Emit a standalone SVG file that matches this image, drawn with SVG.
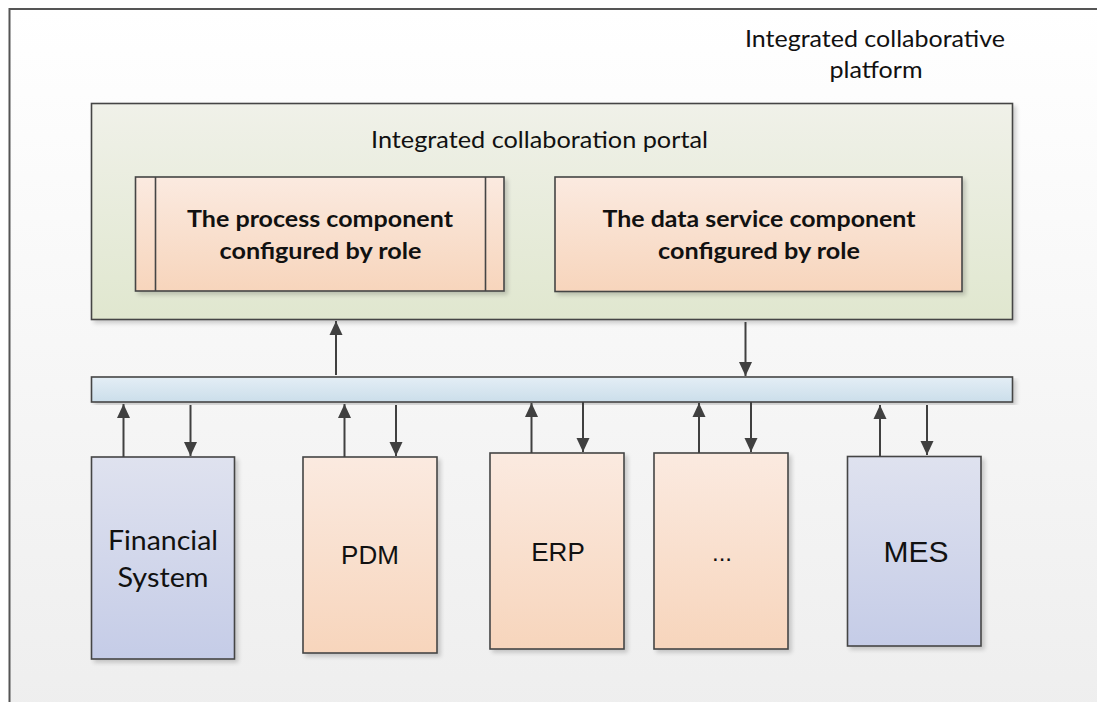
<svg xmlns="http://www.w3.org/2000/svg" width="1097" height="702" viewBox="0 0 1097 702">
  <defs>
    <linearGradient id="bg" x1="0" y1="0" x2="0" y2="1">
      <stop offset="0" stop-color="#ffffff"/>
      <stop offset="1" stop-color="#eeeeee"/>
    </linearGradient>
    <linearGradient id="green" x1="0" y1="0" x2="0" y2="1">
      <stop offset="0" stop-color="#f0f1e9"/>
      <stop offset="1" stop-color="#e0e7cf"/>
    </linearGradient>
    <linearGradient id="peach" x1="0" y1="0" x2="0" y2="1">
      <stop offset="0" stop-color="#fbeae0"/>
      <stop offset="1" stop-color="#f7d5bc"/>
    </linearGradient>
    <linearGradient id="blue" x1="0" y1="0" x2="0" y2="1">
      <stop offset="0" stop-color="#dfe2ef"/>
      <stop offset="1" stop-color="#c5cce7"/>
    </linearGradient>
    <linearGradient id="bus" x1="0" y1="0" x2="0" y2="1">
      <stop offset="0" stop-color="#e4eef6"/>
      <stop offset="1" stop-color="#cbdeea"/>
    </linearGradient>
    <filter id="sh" x="-5%" y="-5%" width="115%" height="115%">
      <feGaussianBlur in="SourceAlpha" stdDeviation="2"/>
      <feOffset dx="3" dy="3"/>
      <feComponentTransfer><feFuncA type="linear" slope="0.18"/></feComponentTransfer>
      <feMerge><feMergeNode/><feMergeNode in="SourceGraphic"/></feMerge>
    </filter>
    <marker id="ah" viewBox="0 0 14 14" refX="14" refY="7" markerWidth="14" markerHeight="14" markerUnits="userSpaceOnUse" orient="auto">
      <path d="M0,0.5 L14,7 L0,13.5 Z" fill="#404040"/>
    </marker>
  </defs>
  <style>
    .box { stroke: #454545; stroke-width: 1.6; }
    .conn { stroke: #404040; stroke-width: 2; fill: none; marker-end: url(#ah); }
    .cal { font-family: Lato, "Open Sans", sans-serif; fill: #111; }
    .bold { font-family: Lato, "Open Sans", sans-serif; font-weight: bold; fill: #111; }
    .ar { font-family: "Liberation Sans", Arial, sans-serif; fill: #111; }
  </style>

  <rect x="0" y="0" width="1097" height="702" fill="#ffffff"/>
  <g id="platform">
    <rect x="9.5" y="9" width="1100" height="710" fill="url(#bg)" stroke="#555555" stroke-width="2"/>
    <text class="cal" font-size="24" text-anchor="middle" x="875" y="47" textLength="260" lengthAdjust="spacingAndGlyphs">Integrated collaborative</text>
    <text class="cal" font-size="24" text-anchor="middle" x="876" y="78" textLength="93" lengthAdjust="spacingAndGlyphs">platform</text>
  </g>

  <g id="portal">
    <rect class="box" x="91.5" y="103.5" width="921" height="216" fill="url(#green)" filter="url(#sh)"/>
    <text class="cal" font-size="23" text-anchor="middle" x="539.5" y="148" textLength="337" lengthAdjust="spacingAndGlyphs">Integrated collaboration portal</text>
  </g>

  <g id="process">
    <rect class="box" x="135.5" y="177" width="368.5" height="114" fill="url(#peach)" filter="url(#sh)"/>
    <line class="box" x1="155.5" y1="177" x2="155.5" y2="291"/>
    <line class="box" x1="485.5" y1="177" x2="485.5" y2="291"/>
    <text class="bold" font-size="23" text-anchor="middle" x="320" y="227" textLength="266" lengthAdjust="spacingAndGlyphs">The process component</text>
    <text class="bold" font-size="23" text-anchor="middle" x="320.5" y="259" textLength="202" lengthAdjust="spacingAndGlyphs">configured by role</text>
  </g>

  <g id="dataservice">
    <rect class="box" x="555" y="177" width="407" height="114.5" fill="url(#peach)" filter="url(#sh)"/>
    <text class="bold" font-size="23" text-anchor="middle" x="759" y="227" textLength="313" lengthAdjust="spacingAndGlyphs">The data service component</text>
    <text class="bold" font-size="23" text-anchor="middle" x="759" y="259" textLength="202" lengthAdjust="spacingAndGlyphs">configured by role</text>
  </g>

  <g id="bus-node">
    <rect class="box" x="91.5" y="377" width="921" height="25" fill="url(#bus)" filter="url(#sh)"/>
  </g>

  <g id="financial">
    <rect class="box" x="91.5" y="457" width="143" height="202" fill="url(#blue)" filter="url(#sh)"/>
    <text class="cal" font-size="27" text-anchor="middle" x="163" y="550" textLength="110" lengthAdjust="spacingAndGlyphs">Financial</text>
    <text class="cal" font-size="27" text-anchor="middle" x="163" y="587" textLength="91" lengthAdjust="spacingAndGlyphs">System</text>
  </g>

  <g id="pdm">
    <rect class="box" x="303" y="457" width="134" height="196" fill="url(#peach)" filter="url(#sh)"/>
    <text class="ar" font-size="26" text-anchor="middle" x="370" y="564">PDM</text>
  </g>

  <g id="erp">
    <rect class="box" x="490" y="453" width="134" height="196" fill="url(#peach)" filter="url(#sh)"/>
    <text class="ar" font-size="26" text-anchor="middle" x="558" y="561">ERP</text>
  </g>

  <g id="etc">
    <rect class="box" x="654" y="453" width="134" height="196" fill="url(#peach)" filter="url(#sh)"/>
    <text class="ar" font-size="24" text-anchor="middle" x="722" y="561">...</text>
  </g>

  <g id="mes">
    <rect class="box" x="847.5" y="456.5" width="133.5" height="189.5" fill="url(#blue)" filter="url(#sh)"/>
    <text class="ar" font-size="30" text-anchor="middle" x="916" y="562">MES</text>
  </g>

  <g id="connectors">
    <line class="conn" x1="336" y1="375" x2="336" y2="321"/>
    <line class="conn" x1="745.5" y1="322" x2="745.5" y2="376"/>

    <line class="conn" x1="123.5" y1="457" x2="123.5" y2="404"/>
    <line class="conn" x1="190.5" y1="405" x2="190.5" y2="456"/>

    <line class="conn" x1="344.5" y1="457" x2="344.5" y2="404"/>
    <line class="conn" x1="396" y1="405" x2="396" y2="456"/>

    <line class="conn" x1="531.5" y1="453" x2="531.5" y2="403"/>
    <line class="conn" x1="583" y1="402" x2="583" y2="452"/>

    <line class="conn" x1="699" y1="453" x2="699" y2="403"/>
    <line class="conn" x1="751" y1="402" x2="751" y2="452"/>

    <line class="conn" x1="880" y1="456" x2="880" y2="405"/>
    <line class="conn" x1="927" y1="405" x2="927" y2="455"/>
  </g>
</svg>
